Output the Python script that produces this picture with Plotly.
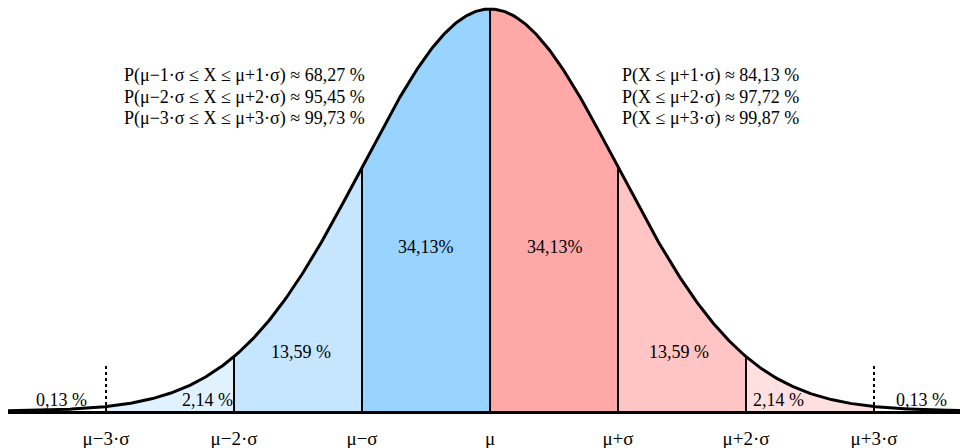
import numpy as np
import plotly.graph_objects as go

# band edges in units of sigma, and the colour of each band
band_edges = [-3, -2, -1, 0, 1, 2, 3]
band_colors = ["#e0f2ff", "#c6e6ff", "#99d3ff", "#ffa8a8", "#ffc4c4", "#ffe0e0"]

# percentage labels inside the bands
pct_text = ["0,13 %", "2,14 %", "13,59 %", "34,13%", "34,13%", "13,59 %", "2,14 %", "0,13 %"]
pct_x = [-3.345, -2.21, -1.48, -0.5, 0.51, 1.48, 2.25, 3.375]
pct_y = [0.027, 0.027, 0.147, 0.408, 0.408, 0.147, 0.027, 0.027]

tick_vals = [-3, -2, -1, 0, 1, 2, 3]
tick_text = ["μ−3·σ", "μ−2·σ", "μ−σ", "μ", "μ+σ", "μ+2·σ", "μ+3·σ"]

left_lines = [
    "P(μ−1·σ ≤ X ≤ μ+1·σ) ≈ 68,27 %",
    "P(μ−2·σ ≤ X ≤ μ+2·σ) ≈ 95,45 %",
    "P(μ−3·σ ≤ X ≤ μ+3·σ) ≈ 99,73 %",
]
right_lines = [
    "P(X ≤ μ+1·σ) ≈ 84,13 %",
    "P(X ≤ μ+2·σ) ≈ 97,72 %",
    "P(X ≤ μ+3·σ) ≈ 99,87 %",
]

x_min, x_max = -3.766, 3.672
FONT = "Liberation Serif"


def density(x):
    # normal density scaled so the peak is 1
    return np.exp(-np.asarray(x) ** 2 / 2)


fig = go.Figure()

# coloured bands
for a, b, c in zip(band_edges[:-1], band_edges[1:], band_colors):
    xs = np.linspace(a, b, 120)
    fig.add_trace(go.Scatter(x=xs, y=density(xs), mode="lines", fill="tozeroy",
                             fillcolor=c, line=dict(width=0), hoverinfo="skip"))

# solid separators at mu, +-1 sigma, +-2 sigma
for v in [-2, -1, 0, 1, 2]:
    fig.add_trace(go.Scatter(x=[v, v], y=[0, float(density(v))], mode="lines",
                             line=dict(color="black", width=2), hoverinfo="skip"))

# dotted markers at +-3 sigma
for v in [-3, 3]:
    fig.add_trace(go.Scatter(x=[v, v], y=[0, 0.112], mode="lines",
                             line=dict(color="black", width=2, dash="dot"), hoverinfo="skip"))

# the bell curve
xc = np.linspace(x_min, x_max, 600)
fig.add_trace(go.Scatter(x=xc, y=density(xc), mode="lines",
                         line=dict(color="black", width=3), hoverinfo="skip", cliponaxis=False))

for t, x, y in zip(pct_text, pct_x, pct_y):
    fig.add_annotation(x=x, y=y, text=t, showarrow=False,
                       font=dict(family=FONT, size=18, color="black"))

line_y = [0.835, 0.781, 0.728]
for t, y in zip(left_lines, line_y):
    fig.add_annotation(x=(122 - 490) / 128, y=y, text=t, showarrow=False, xanchor="left",
                       font=dict(family=FONT, size=18, color="black"))
for t, y in zip(right_lines, line_y):
    fig.add_annotation(x=(620 - 490) / 128, y=y, text=t, showarrow=False, xanchor="left",
                       font=dict(family=FONT, size=18, color="black"))

fig.update_layout(
    width=960, height=448,
    margin=dict(l=8, r=0, t=0, b=37),
    plot_bgcolor="white", paper_bgcolor="white",
    showlegend=False,
)
fig.update_xaxes(range=[x_min, x_max], tickvals=tick_vals, ticktext=tick_text,
                 showgrid=False, zeroline=False, showline=True, linecolor="black",
                 linewidth=3, ticks="", ticklabelstandoff=8,
                 tickfont=dict(family=FONT, size=19, color="black"))
fig.update_yaxes(range=[0, 411 / 402], visible=False, showgrid=False, zeroline=False)

fig.write_html("out.html", config={"displayModeBar": False},
               post_script="document.body.style.margin='0';")
